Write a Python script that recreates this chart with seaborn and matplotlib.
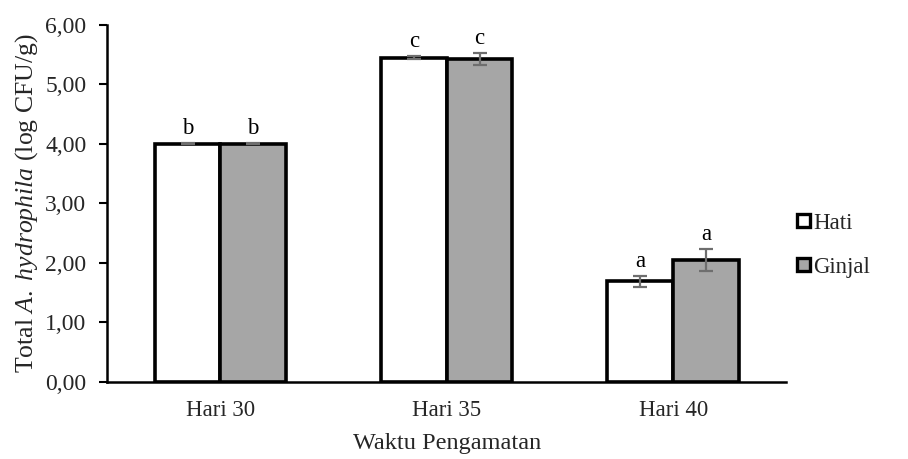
import pandas as pd
import matplotlib.pyplot as plt
import seaborn as sns
from matplotlib.patches import Patch

# --- data ---
days = ['Hari 30', 'Hari 35', 'Hari 40']
organs = ['Hati', 'Ginjal']
hati_vals = [4.00, 5.45, 1.69]
ginjal_vals = [4.00, 5.43, 2.05]
hati_err = [0.01, 0.02, 0.09]
ginjal_err = [0.01, 0.10, 0.18]
hati_letters = ['b', 'c', 'a']
ginjal_letters = ['b', 'c', 'a']
yticks = [0, 1, 2, 3, 4, 5, 6]

df = pd.DataFrame({
    'Hari': days * 2,
    'Organ': ['Hati'] * 3 + ['Ginjal'] * 3,
    'Total': hati_vals + ginjal_vals,
})

sns.set_theme(style="white")
plt.rcParams['font.family'] = ['Liberation Serif', 'DejaVu Serif']
plt.rcParams['mathtext.fontset'] = 'custom'
plt.rcParams['mathtext.rm'] = 'Liberation Serif'
plt.rcParams['mathtext.it'] = 'Liberation Serif:italic'

fig = plt.figure(figsize=(9.08, 4.59), dpi=100)
ax = fig.add_axes([0.118, 0.168, 0.748, 0.778])

colors = ['white', '#a6a6a6']
sns.barplot(data=df, x='Hari', y='Total', hue='Organ', hue_order=organs,
            palette=colors, edgecolor='black', linewidth=2.6,
            width=0.58, gap=0, errorbar=None, legend=False, ax=ax)

# error bars + significance letters
errs = [hati_err, ginjal_err]
letters = [hati_letters, ginjal_letters]
vals = [hati_vals, ginjal_vals]
bar_conts = list(ax.containers)
for k, cont in enumerate(bar_conts):
    for i, bar in enumerate(cont.patches):
        xc = bar.get_x() + bar.get_width() / 2
        ax.errorbar(xc, vals[k][i], yerr=errs[k][i], fmt='none',
                    ecolor='#6e6e6e', elinewidth=1.6, capsize=5, capthick=1.6, zorder=5)
        ax.text(xc, vals[k][i] + errs[k][i] + 0.07, letters[k][i],
                ha='center', va='bottom', fontsize=16.5, color='black')

ax.set_ylim(0, 6)
ax.set_xlim(-0.5, 2.5)
ax.set_yticks(yticks)
ax.set_yticklabels([f"{v:.2f}".replace('.', ',') for v in yticks], fontsize=17)
ax.tick_params(axis='x', labelsize=16.5, length=0, pad=13)
ax.tick_params(axis='y', length=6, width=1.5, color='black', direction='out', pad=9)
ax.yaxis.set_ticks_position('left')

for s in ['top', 'right']:
    ax.spines[s].set_visible(False)
for s in ['left', 'bottom']:
    ax.spines[s].set_color('black')
    ax.spines[s].set_linewidth(1.8)

ax.set_xlabel('Waktu Pengamatan', fontsize=17.5, labelpad=9)
ax.set_ylabel(r'Total $\mathit{A.\ hydrophila}$ (log CFU/g)', fontsize=18.5, labelpad=4)

handles = [Patch(facecolor=c, edgecolor='black', linewidth=2.4) for c in colors]
fig.legend(handles, organs, loc='center left', bbox_to_anchor=(0.855, 0.466),
           frameon=False, fontsize=16.5, handlelength=0.55, handleheight=0.55,
           handletextpad=0.15, labelspacing=1.0)

fig.savefig('out.png', dpi=100)
